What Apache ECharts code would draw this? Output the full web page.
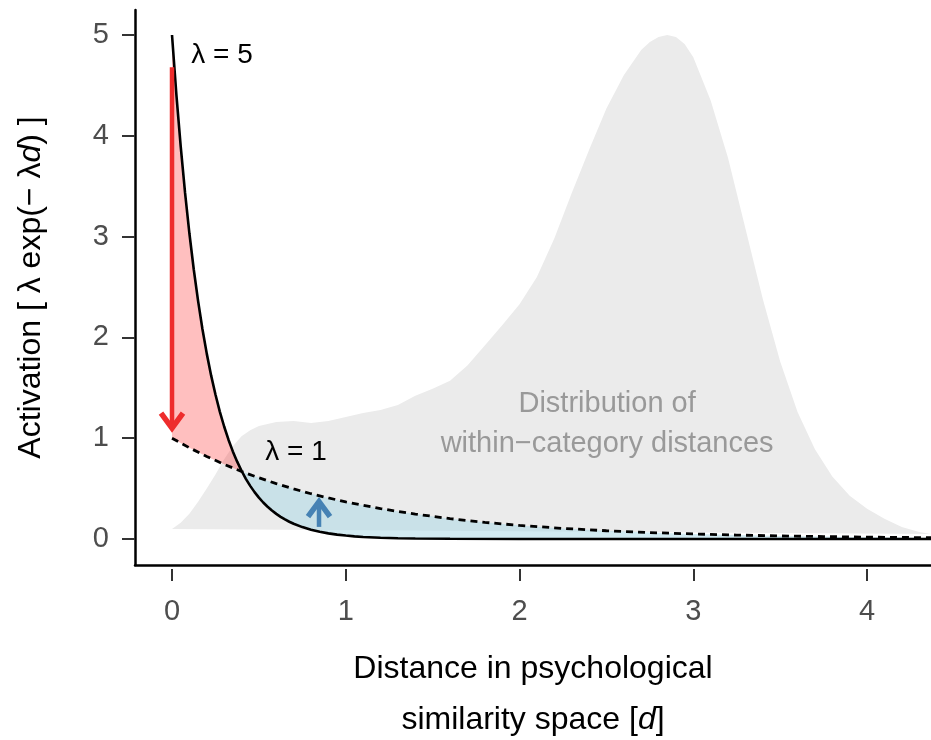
<!DOCTYPE html>
<html><head><meta charset="utf-8">
<script src="https://cdn.jsdelivr.net/npm/echarts@6/dist/echarts.min.js"></script>
<style>html,body{margin:0;padding:0;background:#fff}#c{width:931px;height:740px}</style>
</head><body><div id="c"></div>
<script>
// ---- data ----
const xTicks = [0, 1, 2, 3, 4];
const yTicks = [0, 1, 2, 3, 4, 5];

// lambda = 5 curve (solid)
const solidD = [0,0.025,0.05,0.075,0.1,0.125,0.15,0.175,0.2,0.225,0.25,0.275,0.3,0.325,0.35,0.375,0.4,0.425,0.45,0.475,0.5,0.525,0.55,0.575,0.6,0.625,0.65,0.675,0.7,0.75,0.8,0.85,0.9,0.95,1.0,1.05,1.1,1.2,1.3,1.4,1.6,2.0,3.0,4.37];
const solidY = [5,4.412,3.894,3.436,3.033,2.676,2.362,2.084,1.839,1.623,1.433,1.264,1.116,0.985,0.869,0.767,0.677,0.597,0.527,0.465,0.410,0.362,0.320,0.282,0.249,0.220,0.194,0.171,0.151,0.118,0.092,0.071,0.056,0.043,0.034,0.026,0.020,0.012,0.0075,0.0046,0.0017,0.0002,0,0];

// lambda = 1 curve (dashed)
const dashD = [0,0.1,0.2,0.3,0.4,0.5,0.6,0.7,0.8,0.9,1.0,1.2,1.4,1.6,1.8,2.0,2.25,2.5,2.75,3.0,3.25,3.5,3.75,4.0,4.37];
const dashY = [1,0.905,0.819,0.741,0.670,0.607,0.549,0.497,0.449,0.407,0.368,0.301,0.247,0.202,0.165,0.135,0.105,0.082,0.064,0.050,0.039,0.030,0.024,0.018,0.013];

// where the two curves cross
const crossPoint = [0.402, 0.669];

// distribution of within-category distances (grey shape)
const densD = [0,0.05,0.1,0.15,0.2,0.25,0.3,0.35,0.4,0.45,0.5,0.6,0.7,0.8,0.9,1.0,1.1,1.2,1.3,1.4,1.5,1.6,1.7,1.8,1.9,2.0,2.1,2.2,2.3,2.4,2.5,2.6,2.7,2.75,2.8,2.85,2.9,2.95,3.0,3.1,3.2,3.3,3.4,3.5,3.6,3.7,3.8,3.9,4.0,4.1,4.2,4.3,4.37];
const densY = [0.10,0.16,0.25,0.37,0.50,0.64,0.79,0.92,1.02,1.08,1.12,1.16,1.17,1.15,1.17,1.21,1.25,1.28,1.33,1.42,1.49,1.57,1.72,1.92,2.12,2.33,2.60,2.98,3.43,3.86,4.27,4.60,4.85,4.93,4.98,5.00,4.98,4.91,4.78,4.35,3.78,3.08,2.38,1.76,1.26,0.89,0.62,0.43,0.30,0.20,0.12,0.07,0.05];

// arrows [d, yFrom, yTo]
const redArrow = [0, 4.68, 1.06];
const blueArrow = [0.846, 0.12, 0.41];

// annotation texts [d, y]
const lab5Pos = [0.288, 4.80];
const lab1Pos = [0.714, 0.863];
const distPos = [2.504, 1.14];
const lab5Text = 'λ = 5';
const lab1Text = 'λ = 1';
const distText = 'Distribution of\nwithin\u2212category distances';

// ---- build ----
const FONT = '"Liberation Sans", Arial, Helvetica, sans-serif';
const zip = (a, b) => a.map((v, i) => [v, b[i]]);
const solidPts = zip(solidD, solidY);
const dashPts = zip(dashD, dashY);
const densPts = zip(densD, densY);

const redPoly = solidPts.filter(p => p[0] < crossPoint[0])
  .concat([crossPoint])
  .concat(dashPts.filter(p => p[0] < crossPoint[0]).reverse());
const bluePoly = [crossPoint]
  .concat(dashPts.filter(p => p[0] > crossPoint[0]))
  .concat(solidPts.filter(p => p[0] > crossPoint[0]).reverse());

function polySeries(pts, fill) {
  return {
    type: 'custom', clip: true, data: [[0, 0]], silent: true,
    renderItem: (params, api) => ({
      type: 'polygon',
      shape: { points: pts.map(p => api.coord(p)) },
      style: { fill: fill, stroke: null }
    })
  };
}
function arrowSeries(arr, color) {
  return {
    type: 'custom', clip: false, data: [[0, 0]], silent: true, z: 5,
    renderItem: (params, api) => {
      const a = api.coord([arr[0], arr[1]]);
      const b = api.coord([arr[0], arr[2]]);
      const dir = b[1] > a[1] ? 1 : -1;
      const h = 15, w = 11;
      const tip = [b[0], b[1] - dir * 4];
      return {
        type: 'group',
        children: [
          { type: 'line', shape: { x1: a[0], y1: a[1], x2: tip[0], y2: tip[1] - dir * 3 },
            style: { stroke: color, lineWidth: 4.5 } },
          { type: 'polyline', shape: { points: [[tip[0] - w, tip[1] - dir * h], tip, [tip[0] + w, tip[1] - dir * h]] },
            style: { stroke: color, lineWidth: 5.5, fill: null, lineJoin: 'miter' } }
        ]
      };
    }
  };
}
function textSeries(pos, text, color, size) {
  return {
    type: 'custom', clip: false, data: [[0, 0]], silent: true, z: 6,
    renderItem: (params, api) => {
      const c = api.coord(pos);
      return { type: 'text', x: c[0], y: c[1],
        style: { text: text, fill: color, fontSize: size, fontFamily: FONT,
                 align: 'center', verticalAlign: 'middle', lineHeight: 40 } };
    }
  };
}

const xMin = -0.213, xMax = 4.368, yMin = -0.258, yMax = 5.248;
const chart = echarts.init(document.getElementById('c'), null, { renderer: 'canvas' });
chart.setOption({
  backgroundColor: '#ffffff',
  animation: false,
  grid: { left: 135, right: 0, top: 10, bottom: 175, containLabel: false, outerBoundsMode: 'none' },
  xAxis: [
    { type: 'value', min: xMin, max: xMax,
      axisLine: { show: true, onZero: false, lineStyle: { color: '#000', width: 2.5 } },
      axisTick: { show: false }, axisLabel: { show: false }, splitLine: { show: false },
      name: 'Distance in psychological\nsimilarity space [{i|d}]',
      nameLocation: 'middle', nameGap: 79,
      nameTextStyle: { color: '#000', fontSize: 32, fontFamily: FONT, lineHeight: 51,
        rich: { i: { fontStyle: 'italic', fontSize: 32, fontFamily: FONT, color: '#000', lineHeight: 51 } } }
    },
    { type: 'value', min: xMin, max: xMax, position: 'bottom', offset: 4,
      axisLine: { show: false, onZero: false },
      axisTick: { show: true, customValues: xTicks, length: 12, lineStyle: { color: '#333', width: 2 } },
      axisLabel: { show: true, customValues: xTicks, margin: 28, color: '#4d4d4d', fontSize: 29, fontFamily: FONT },
      splitLine: { show: false }
    }
  ],
  yAxis: {
    type: 'value', min: yMin, max: yMax,
    axisLine: { show: true, onZero: false, lineStyle: { color: '#000', width: 2.5 } },
    axisTick: { show: true, customValues: yTicks, length: 13, lineStyle: { color: '#333', width: 2 } },
    axisLabel: { show: true, customValues: yTicks, margin: 26, color: '#4d4d4d', fontSize: 29, fontFamily: FONT },
    splitLine: { show: false },
    name: 'Activation [ λ exp(\u2212 λ{i|d}) ]',
    nameLocation: 'middle', nameGap: 88, nameRotate: 90,
    nameTextStyle: { color: '#000', fontSize: 32, fontFamily: FONT,
      rich: { i: { fontStyle: 'italic', fontSize: 32, fontFamily: FONT, color: '#000' } } }
  },
  series: [
    polySeries(densPts, '#ebebeb'),
    polySeries(redPoly, 'rgba(255,0,0,0.25)'),
    polySeries(bluePoly, 'rgba(173,216,230,0.55)'),
    { type: 'line', data: dashPts, showSymbol: false, symbol: 'none', clip: true, z: 3,
      lineStyle: { color: '#000', width: 2.8, type: [7, 5] } },
    { type: 'line', data: solidPts, showSymbol: false, symbol: 'none', clip: true, z: 3,
      lineStyle: { color: '#000', width: 2.6 } },
    arrowSeries(redArrow, '#ee2c2c'),
    arrowSeries(blueArrow, '#4682b4'),
    textSeries(lab5Pos, lab5Text, '#000', 28),
    textSeries(lab1Pos, lab1Text, '#000', 28),
    textSeries(distPos, distText, '#999999', 29)
  ]
});
</script></body></html>
